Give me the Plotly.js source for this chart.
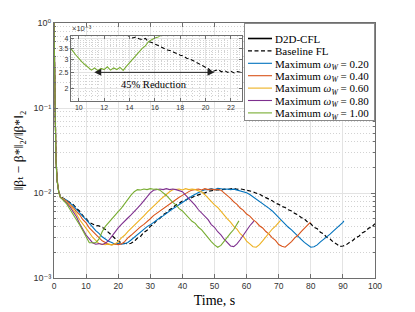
<!DOCTYPE html>
<html>
<head>
<meta charset="utf-8">
<script src="https://cdn.plot.ly/plotly-3.0.1.min.js"></script>
<style>
html,body{margin:0;padding:0;background:#fff;}
#chart{width:415px;height:312px;}
</style>
</head>
<body>
<div id="chart"></div>
<script>
// ---------------- data (values in units of 1e-3) ----------------
// common initial drop sample times (s)
const dropTimes = [0, 0.3, 0.6, 1, 1.5];
// end time of each series (s)
const endBlack = 100, endBlue = 90.3, endOrange = 79.9, endYellow = 70.6, endPurple = 62.2, endGreen = 57.6;

// first 5 values: drop, then values at t = 2,3,4,... and the final value at the end time
const baselineE3 = [1000, 60, 26, 14, 10.4,
  9.1, 8.6, 8.3, 7.7, 7.3, 6.6, 6.1, 5.4, 5.0, 4.5,
  4.3, 4.15, 4.1, 3.95, 3.72, 3.42, 3.18, 2.95, 2.7, 2.6,
  2.54, 2.52, 2.56, 2.7, 2.95, 3.1, 3.45, 3.65, 4.05, 4.3,
  4.75, 5.05, 5.55, 5.85, 6.35, 6.7, 7.25, 7.55, 8.05, 8.25,
  8.65, 8.85, 9.25, 9.45, 9.85, 10.05, 10.45, 10.55, 10.85, 10.95,
  10.8, 11.1, 10.95, 11.25, 11.4, 11.05, 11.2, 11.0, 10.85, 10.6,
  10.35, 9.95, 9.7, 9.2, 8.9, 8.45, 8.1, 7.6, 7.35, 6.95,
  6.75, 6.35, 6.15, 5.75, 5.55, 5.15, 4.95, 4.55, 4.35, 3.95,
  3.8, 3.45, 3.3, 3.0, 2.88, 2.65, 2.52, 2.35, 2.38, 2.45,
  2.62, 2.75, 2.98, 3.1, 3.38, 3.55, 3.85, 4.0, 4.35];

const w020E3 = [1000, 55, 25, 13.8, 10.3,
  8.9, 8.5, 8.2, 7.6, 7.1, 6.4, 5.9, 5.3, 4.85, 4.35,
  4.0, 3.6, 3.35, 3.05, 2.88, 2.7, 2.62, 2.5, 2.56, 2.5,
  2.53, 2.62, 2.8, 3.02, 3.22, 3.52, 3.72, 4.02, 4.22, 4.52,
  4.78, 5.12, 5.38, 5.78, 6.08, 6.52, 6.88, 7.32, 7.68, 8.22,
  8.68, 9.22, 9.68, 10.22, 10.55, 10.92, 10.95, 11.25, 10.95, 11.35,
  11.15, 11.05, 11.15, 10.95, 11.1, 10.85, 10.65, 10.3, 10.05, 9.6,
  9.05, 8.5, 8.05, 7.5, 7.15, 6.6, 6.15, 5.6, 5.15, 4.7,
  4.35, 3.95, 3.68, 3.35, 3.12, 2.85, 2.62, 2.45, 2.3, 2.33,
  2.45, 2.66, 2.84, 3.06, 3.28, 3.56, 3.84, 4.22, 4.52, 4.7];

const w040E3 = [1000, 58, 25.5, 13.9, 10.2,
  8.9, 8.5, 8.0, 7.3, 6.75, 6.05, 5.55, 4.85, 4.45, 3.88,
  3.55, 3.18, 2.97, 2.74, 2.62, 2.48, 2.46, 2.52, 2.47, 2.52,
  2.68, 2.97, 3.18, 3.47, 3.68, 4.02, 4.28, 4.68, 4.98, 5.42,
  5.78, 6.22, 6.58, 7.02, 7.38, 7.92, 8.38, 8.92, 9.38, 9.92,
  10.38, 10.82, 10.95, 11.15, 10.85, 11.25, 10.95, 11.15, 10.9, 11.05,
  10.8, 10.05, 9.25, 8.65, 7.85, 7.35, 6.65, 6.25, 5.65, 5.35,
  4.85, 4.55, 4.12, 3.88, 3.52, 3.28, 2.97, 2.77, 2.48, 2.36,
  2.3, 2.47, 2.68, 2.97, 3.18, 3.52, 3.82, 4.22, 4.55];

const w060E3 = [1000, 57, 25, 14, 10.3,
  8.9, 8.45, 7.75, 7.15, 6.35, 5.65, 4.85, 4.35, 3.78, 3.42,
  3.02, 2.76, 2.54, 2.5, 2.46, 2.52, 2.44, 2.52, 2.68, 2.97,
  3.18, 3.52, 3.82, 4.22, 4.58, 5.02, 5.38, 5.92, 6.38, 7.02,
  7.58, 8.32, 8.98, 9.72, 10.35, 10.92, 10.95, 11.15, 10.85, 11.25,
  10.95, 11.15, 10.95, 10.65, 10.25, 9.55, 8.65, 8.05, 7.25, 6.75,
  6.05, 5.55, 4.95, 4.55, 4.05, 3.75, 3.32, 3.08, 2.72, 2.52,
  2.33, 2.3, 2.47, 2.73, 3.07, 3.38, 3.77, 4.08, 4.52, 4.75];

const w080E3 = [1000, 56, 25, 13.7, 10.2,
  8.9, 8.3, 7.6, 6.85, 5.95, 5.25, 4.35, 3.75, 3.2, 2.88,
  2.6, 2.5, 2.54, 2.48, 2.56, 2.76, 3.12, 3.42, 3.88, 4.28,
  4.72, 5.08, 5.52, 5.98, 6.62, 7.28, 8.12, 8.98, 10.05, 10.75,
  11.05, 11.15, 10.95, 11.25, 10.95, 11.15, 10.95, 10.75, 10.35, 9.45,
  8.65, 7.75, 7.15, 6.35, 5.85, 5.25, 4.85, 4.25, 3.95, 3.5,
  3.22, 2.86, 2.62, 2.38, 2.34, 2.52, 2.82, 3.22, 3.58, 4.12,
  4.55, 4.7];

const w100E3 = [1000, 54, 24.5, 13.6, 10.1,
  8.9, 8.1, 7.4, 6.4, 5.6, 4.75, 4.2, 3.6, 3.02, 2.6,
  2.6, 2.6, 2.86, 3.5, 4.05, 4.5, 5.05, 5.45, 6.05, 6.65,
  7.55, 8.35, 9.45, 10.35, 10.95, 10.85, 11.15, 10.95, 11.25, 11.05,
  11.1, 10.8, 10.15, 9.35, 8.55, 7.75, 7.25, 6.55, 6.15, 5.55,
  5.15, 4.65, 4.4, 3.95, 3.68, 3.28, 3.02, 2.68, 2.45, 2.3,
  2.42, 2.72, 2.98, 3.38, 3.72, 4.32, 4.7];

// inset (zoomed) detail, 0.25 s sampling
const insetGreenT = [9.25, 9.5, 9.75, 10, 10.25, 10.5, 10.75, 11, 11.25, 11.5, 11.75, 12, 12.25, 12.5, 12.75, 13, 13.25, 13.5, 13.75, 14, 14.25, 14.5, 14.75, 15, 15.25, 15.5, 15.75, 16, 16.25, 16.5];
const insetGreenE3 = [3.55, 3.4, 3.2, 3.02, 2.9, 2.78, 2.68, 2.58, 2.66, 2.56, 2.64, 2.6, 2.7, 2.58, 2.66, 2.6, 2.68, 2.57, 2.72, 2.86, 3.0, 3.18, 3.3, 3.5, 3.62, 3.85, 3.95, 4.05, 4.1, 4.2];
const insetBlackT = [13.75, 14, 14.25, 14.5, 14.75, 15, 15.25, 15.5, 15.75, 16, 16.25, 16.5, 16.75, 17, 17.25, 17.5, 17.75, 18, 18.25, 18.5, 18.75, 19, 19.25, 19.5, 19.75, 20, 20.25, 20.5, 20.75, 21, 21.25, 21.5, 21.75, 22, 22.25, 22.5, 22.75, 23];
const insetBlackE3 = [4.25, 4.12, 4.05, 4.1, 4.0, 3.95, 4.02, 3.85, 3.8, 3.72, 3.65, 3.55, 3.5, 3.42, 3.38, 3.3, 3.25, 3.18, 3.15, 3.05, 3.02, 2.95, 2.88, 2.82, 2.75, 2.7, 2.62, 2.52, 2.55, 2.6, 2.52, 2.56, 2.5, 2.54, 2.48, 2.53, 2.5, 2.52];

// arrow between minima (s) and its level, label
const arrowFromT = 11.1, arrowToT = 20.7, arrowLevelE3 = 2.5;
const reductionLabel = '45% Reduction';

const legendNames = ['D2D-CFL', 'Baseline FL',
  'Maximum <i>ω<sub>W</sub></i> = 0.20', 'Maximum <i>ω<sub>W</sub></i> = 0.40',
  'Maximum <i>ω<sub>W</sub></i> = 0.60', 'Maximum <i>ω<sub>W</sub></i> = 0.80',
  'Maximum <i>ω<sub>W</sub></i> = 1.00'];
const yTickVals = [1e-3, 1e-2, 1e-1, 1];
const yTickText = ['10⁻³', '10⁻²', '10⁻¹', '10⁰'];
const insetYTickVals = [2e-3, 2.5e-3, 3e-3, 3.5e-3, 4e-3];
const insetYTickText = ['2', '2.5', '3', '3.5', '4'];
const yTitle = '‖βₜ − β*‖₂/‖β*‖₂';
const xTitle = 'Time, s';
const insetScaleLabel = '×10⁻³';

// ---------------- helpers ----------------
function timeGrid(endT) {
  const t = dropTimes.slice();
  for (let s = 2; s <= Math.floor(endT); s++) t.push(s);
  if (endT !== Math.floor(endT)) t.push(endT);
  return t;
}
const toAbs = a => a.map(v => v * 1e-3);

const colors = {blue:'#0072BD', orange:'#D95319', yellow:'#EDB120', purple:'#7E2F8E', green:'#77AC30'};
const serif = 'Liberation Serif, DejaVu Serif, serif';
const sans = 'Liberation Sans, DejaVu Sans, sans-serif';

const data = [
  // legend-only style key (solid = D2D-CFL); null point is never drawn
  {x: [null], y: [null], name: legendNames[0], mode: 'lines', line: {color: '#000', width: 1.6}},
  {x: timeGrid(endBlack), y: toAbs(baselineE3), name: legendNames[1], mode: 'lines', line: {color: '#000', width: 1.2, dash: '4px,2.5px'}},
  {x: timeGrid(endBlue), y: toAbs(w020E3), name: legendNames[2], mode: 'lines', line: {color: colors.blue, width: 1.1}},
  {x: timeGrid(endOrange), y: toAbs(w040E3), name: legendNames[3], mode: 'lines', line: {color: colors.orange, width: 1.1}},
  {x: timeGrid(endYellow), y: toAbs(w060E3), name: legendNames[4], mode: 'lines', line: {color: colors.yellow, width: 1.1}},
  {x: timeGrid(endPurple), y: toAbs(w080E3), name: legendNames[5], mode: 'lines', line: {color: colors.purple, width: 1.1}},
  {x: timeGrid(endGreen), y: toAbs(w100E3), name: legendNames[6], mode: 'lines', line: {color: colors.green, width: 1.1}},
  {x: insetBlackT, y: toAbs(insetBlackE3), xaxis: 'x2', yaxis: 'y2', showlegend: false, mode: 'lines', line: {color: '#000', width: 1.1, dash: '4px,2.5px'}},
  {x: insetGreenT, y: toAbs(insetGreenE3), xaxis: 'x2', yaxis: 'y2', showlegend: false, mode: 'lines', line: {color: colors.green, width: 1.1}}
];

const mainMinor = [];
for (let d = -3; d < 0; d++) for (let k = 2; k <= 9; k++) mainMinor.push(k * Math.pow(10, d));
const insetMinor = [];
for (let k = 17; k <= 41; k++) if (k % 5 !== 0) insetMinor.push(k * 1e-4);

const axisLine = '#6e6e6e';
const majorGrid = '#e3e3e3', minorGrid = '#d2d2d2', minorDash = '1px,2px';
const layout = {
  width: 415, height: 312,
  margin: {l: 54, r: 40, t: 23, b: 34},
  paper_bgcolor: '#fff', plot_bgcolor: '#fff',
  showlegend: true,
  legend: {x: 1, xanchor: 'right', y: 1, yanchor: 'top', bgcolor: '#fff', bordercolor: '#8a8a8a', borderwidth: 1,
           font: {family: serif, size: 11, color: '#000'}, tracegroupgap: 0},
  xaxis: {domain: [0, 1], range: [0, 100], tickvals: [0,10,20,30,40,50,60,70,80,90,100], ticks: 'inside', ticklen: 4, tickcolor: axisLine,
          showline: true, linecolor: axisLine, linewidth: 1, mirror: 'ticks', zeroline: false,
          showgrid: true, gridcolor: majorGrid, gridwidth: 1,
          tickfont: {family: sans, size: 8.5, color: '#333'},
          title: {text: xTitle, font: {family: serif, size: 14, color: '#000'}, standoff: 4}},
  yaxis: {domain: [0, 1], type: 'log', range: [-3, 0], tickvals: yTickVals, ticktext: yTickText, ticks: 'inside', ticklen: 4, tickcolor: axisLine,
          showline: true, linecolor: axisLine, linewidth: 1, mirror: 'ticks', zeroline: false,
          showgrid: true, gridcolor: majorGrid, gridwidth: 1,
          minor: {tickmode: 'array', tickvals: mainMinor, ticks: 'inside', ticklen: 2, tickcolor: axisLine, showgrid: true, gridcolor: minorGrid, griddash: minorDash, gridwidth: 1},
          tickfont: {family: sans, size: 9, color: '#333'},
          title: {text: yTitle, font: {family: serif, size: 13.5, color: '#000'}, standoff: 6}},
  xaxis2: {domain: [0.0523, 0.5869], anchor: 'y2', range: [9.37, 22.9], tick0: 0, dtick: 2, ticks: 'inside', ticklen: 3, tickcolor: axisLine,
           showline: true, linecolor: axisLine, linewidth: 1, mirror: 'ticks', zeroline: false,
           showgrid: true, gridcolor: majorGrid,
           minor: {dtick: 0.5, showgrid: true, gridcolor: minorGrid, griddash: minorDash, ticks: ''},
           tickfont: {family: sans, size: 7, color: '#333'}},
  yaxis2: {domain: [0.6951, 0.9483], anchor: 'x2', type: 'log', range: [Math.log10(0.00168), Math.log10(0.00415)],
           tickvals: insetYTickVals, ticktext: insetYTickText, ticks: 'inside', ticklen: 3, tickcolor: axisLine,
           showline: true, linecolor: axisLine, linewidth: 1, mirror: 'ticks', zeroline: false,
           showgrid: true, gridcolor: majorGrid,
           minor: {tickmode: 'array', tickvals: insetMinor, showgrid: true, gridcolor: minorGrid, griddash: minorDash, ticks: ''},
           tickfont: {family: sans, size: 7, color: '#333'}},
  annotations: [
    {xref: 'x2', yref: 'y2', axref: 'x2', ayref: 'y2', x: arrowToT, y: Math.log10(arrowLevelE3 * 1e-3),
     ax: arrowFromT, ay: Math.log10(arrowLevelE3 * 1e-3), text: '', showarrow: true,
     arrowside: 'end+start', arrowhead: 2, arrowsize: 1.4, arrowwidth: 1, arrowcolor: '#222'},
    {xref: 'x2', yref: 'y2', x: 15.96, y: Math.log10(2.12e-3), text: reductionLabel, showarrow: false,
     font: {family: serif, size: 10.5, color: '#000'}},
    {xref: 'paper', yref: 'paper', x: 0.05, y: 0.952, xanchor: 'left', yanchor: 'bottom', text: insetScaleLabel, showarrow: false,
     font: {family: sans, size: 7.5, color: '#333'}}
  ]
};

const gd = document.getElementById('chart');
Plotly.newPlot(gd, data, layout, {staticPlot: true, displayModeBar: false}).then(function () {
  // compact the legend to the reference's row spacing and sample length
  const legend = gd.querySelector('g.legend');
  if (legend) {
    const traces = legend.querySelectorAll('.traces');
    const step = 12.4, textX = 30;
    let first = null, maxW = 0;
    traces.forEach(function (g, i) {
      const m = /translate\(\s*([-\d.e]+)[ ,]+([-\d.e]+)\s*\)/.exec(g.getAttribute('transform') || '');
      if (!m) return;
      if (first === null) first = parseFloat(m[2]);
      g.setAttribute('transform', 'translate(' + m[1] + ',' + (first + i * step) + ')');
      g.querySelectorAll('.legendlines path, .legendpoints path').forEach(function (p) {
        const d = p.getAttribute('d') || '';
        if (/^M5,0h30/.test(d)) p.setAttribute('d', 'M3,0h24');
      });
      const t = g.querySelector('text.legendtext');
      if (t) {
        t.setAttribute('x', textX);
        t.querySelectorAll('tspan[x]').forEach(function (s) { s.setAttribute('x', textX); });
        try { maxW = Math.max(maxW, t.getBBox().width); } catch (e) {}
      }
    });
    const bg = legend.querySelector('.bg');
    if (bg && first !== null) {
      const oldW = parseFloat(bg.getAttribute('width'));
      const newW = Math.round(textX + maxW + 6);
      bg.setAttribute('height', String(first + (traces.length - 1) * step + 7));
      if (newW < oldW) {
        bg.setAttribute('width', String(newW));
        const m = /translate\(\s*([-\d.e]+)[ ,]+([-\d.e]+)\s*\)/.exec(legend.getAttribute('transform') || '');
        if (m) legend.setAttribute('transform', 'translate(' + (parseFloat(m[1]) + oldW - newW) + ',' + m[2] + ')');
      }
    }
  }
  // explicit pixel sizes on sub/superscript spans; give baseline-reset spans the following space
  gd.querySelectorAll('text tspan').forEach(function (s) {
    const px = parseFloat(window.getComputedStyle(s).fontSize);
    if (px) { s.style.fontSize = px + 'px'; s.setAttribute('font-size', px); }
    if (s.textContent === '\u200b') {
      const nx = s.nextSibling;
      if (nx && nx.nodeType === 3 && /^ /.test(nx.nodeValue)) {
        s.textContent = ' ';
        nx.nodeValue = nx.nodeValue.slice(1);
      }
    }
  });
  // drop the empty label node of the arrow-only annotation
  gd.querySelectorAll('text.annotation-text').forEach(function (t) {
    if (!t.textContent) t.parentNode.removeChild(t);
  });
});
</script>
</body>
</html>
